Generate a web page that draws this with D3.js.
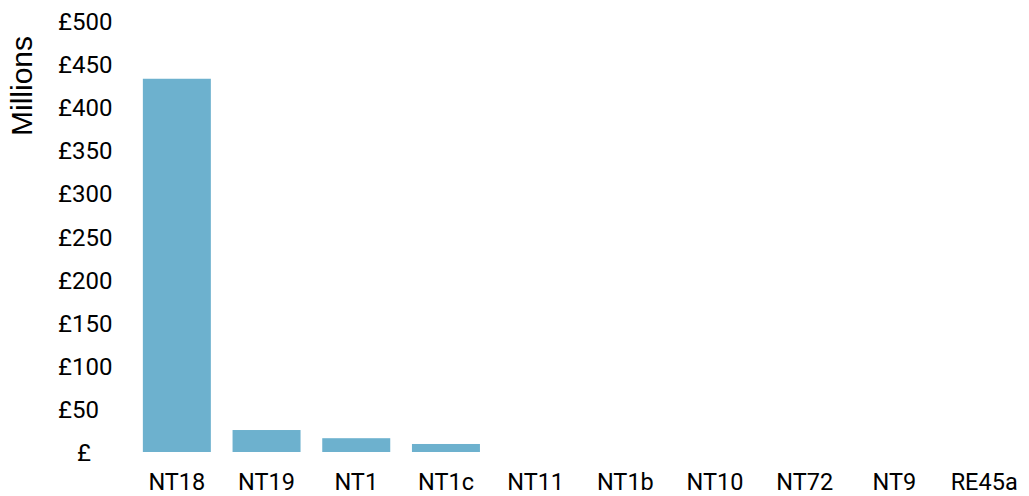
<!DOCTYPE html>
<html>
<head>
<meta charset="utf-8">
<script src="https://cdn.jsdelivr.net/npm/d3@7"></script>
<style>
  html, body { margin: 0; padding: 0; background: #ffffff; }
  svg { display: block; }
</style>
</head>
<body>
<svg id="chart" width="1029" height="496"></svg>
<script>
// Spend per scheme, £ millions
const categories = ["NT18", "NT19", "NT1", "NT1c", "NT11", "NT1b", "NT10", "NT72", "NT9", "RE45a"];
const values = [433, 25.5, 16, 9.3, 0, 0, 0, 0, 0, 0];
const yTicks = [0, 50, 100, 150, 200, 250, 300, 350, 400, 450, 500];

const svg = d3.select("#chart");
const barColor = "#6db1ce";
const font = "Roboto, 'Noto Sans', sans-serif";

const x = d3.scaleBand()
  .domain(categories)
  .range([132, 1029])
  .paddingInner(0.242)
  .paddingOuter(0.121);

const y = d3.scaleLinear()
  .domain([0, 500])
  .range([452, 21]);

// Bars
svg.append("g")
  .selectAll("rect")
  .data(categories.map((c, i) => ({ c, v: values[i] })))
  .join("rect")
  .attr("x", d => x(d.c))
  .attr("y", d => y(d.v))
  .attr("width", x.bandwidth())
  .attr("height", d => y(0) - y(d.v))
  .attr("fill", barColor);

// Y axis: currency labels, no line or tick marks
const yAxis = d3.axisLeft(y)
  .tickValues(yTicks)
  .tickSize(0)
  .tickFormat(d => d === 0 ? "£" : "£" + d);

const gy = svg.append("g").call(yAxis);
gy.select(".domain").remove();
gy.selectAll(".tick text")
  .attr("text-anchor", "start")
  .attr("x", d => d === 0 ? 77 : 58)
  .attr("dy", "0.355em")
  .attr("fill", "#000")
  .style("font-family", font)
  .style("font-size", "24px");

// X axis: category labels
const xAxis = d3.axisBottom(x).tickSize(0);
const gx = svg.append("g")
  .attr("transform", `translate(0,${y(0)})`)
  .call(xAxis);
gx.select(".domain").remove();
gx.selectAll(".tick text")
  .attr("y", 0)
  .attr("dy", 38)
  .attr("fill", "#000")
  .style("font-family", font)
  .style("font-size", "23.5px");

// Axis title
svg.append("text")
  .attr("transform", "translate(32,86) rotate(-90)")
  .attr("text-anchor", "middle")
  .style("font-family", "'Liberation Sans', Arial, sans-serif")
  .style("font-size", "30px")
  .attr("fill", "#000")
  .text("Millions");
</script>
</body>
</html>
